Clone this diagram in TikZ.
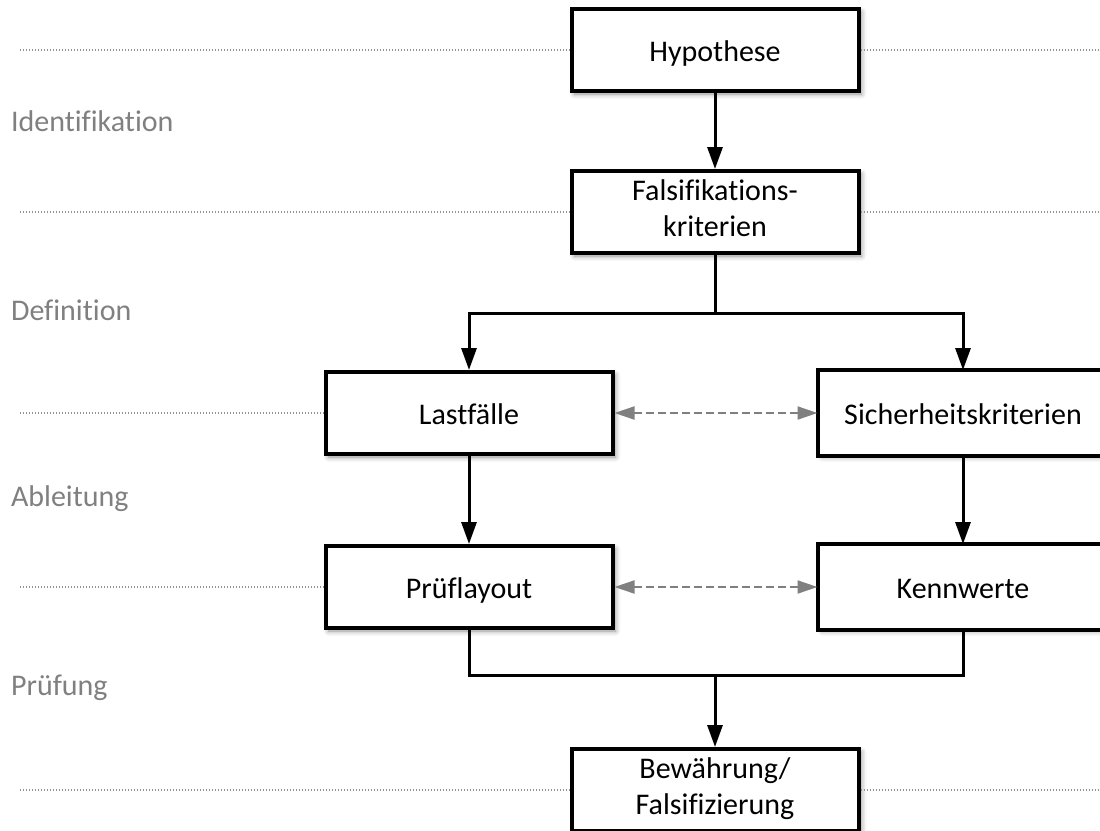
\documentclass[tikz,border=0pt]{standalone}
\usepackage{fontspec}
\setmainfont{Carlito}[RawFeature=-liga]
\usetikzlibrary{arrows.meta,shadows.blur}
\newcommand{\boxstrut}{\rule[-3.8pt]{0pt}{19.3pt}}

\begin{document}
\begin{tikzpicture}[x=0.5pt,y=-0.5pt,
  font=\fontsize{15}{18}\selectfont,
  box/.style={draw,line width=2pt,fill=white,minimum width=143.5pt,minimum height=41pt,
    align=center,inner sep=1pt,execute at begin node=\boxstrut,execute at end node=\boxstrut,
    blur shadow={shadow xshift=1.5pt,shadow yshift=-1.5pt,shadow blur radius=2.5pt,shadow opacity=45}},
  twoline/.style={inner sep=0pt,execute at begin node=\rule{0pt}{18.5pt}},
  open/.style={draw=none},
  frame/.style={line width=2pt},
  conn/.style={line width=1.5pt},
  arr/.style={conn,-{Triangle[length=11pt,width=7.5pt]}},
  link/.style={line width=1pt,gray,dash pattern=on 4pt off 2pt,
    {Triangle[length=10pt,width=6.5pt]}-{Triangle[length=10pt,width=6.5pt]}},
  guide/.style={line width=0.75pt,gray!85,dash pattern=on 0.7pt off 0.8pt},
  phase/.style={anchor=base west,text=gray}]
  \path[use as bounding box,clip] (0,0) rectangle (1100,831);
  \coordinate (lm) at (20,0);
  \coordinate (rm) at (1100,0);

  % Phasen
  \node[phase] (ident) at (4,131) {Identifikation};
  \node[phase] (defin) at (4,320) {Definition};
  \node[phase] (ableit) at (4,506) {Ableitung};
  \node[phase] (pruefg) at (4,695) {Prüfung};

  % Bausteine
  \node[box] (hyp) at (715,50) {Hypothese};
  \node[box,twoline] (fals) at (715,212) {Falsifikations-\\kriterien};
  \node[box] (last) at (469,413) {Lastfälle};
  \node[box,open] (sich) at (963,413) {Sicherheitskriterien};
  \node[box] (pruef) at (469,587) {Prüflayout};
  \node[box,open] (kenn) at (963,587) {Kennwerte};
  \node[box,twoline] (bew) at (715,790) {Bewährung/\\Falsifizierung};

  % rechte Kästen laufen über den Rand
  \foreach \n in {sich,kenn}
    \draw[frame] (rm |- \n.north) -- (\n.north west) -- (\n.south west) -- (rm |- \n.south);

  % Hilfslinien
  \foreach \n in {hyp,fals,last,pruef,bew}
    \draw[guide] (lm |- \n.west) -- (\n.west);
  \foreach \n in {hyp,fals,bew}
    \draw[guide] (\n.east) -- (rm |- \n.east);

  % Verbindungen
  \coordinate (split) at (715,313);
  \coordinate (join) at (715,675);
  \draw[arr] (hyp) -- (fals);
  \draw[conn] (fals) -- (split);
  \draw[arr] (split) -| (last);
  \draw[arr] (split) -| (sich);
  \draw[arr] (last) -- (pruef);
  \draw[arr] (sich) -- (kenn);
  \draw[conn] (pruef) |- (join);
  \draw[conn] (kenn) |- (join);
  \draw[arr] (join) -- (bew);
  \draw[link] (last) -- (sich);
  \draw[link] (pruef) -- (kenn);
\end{tikzpicture}
\end{document}
